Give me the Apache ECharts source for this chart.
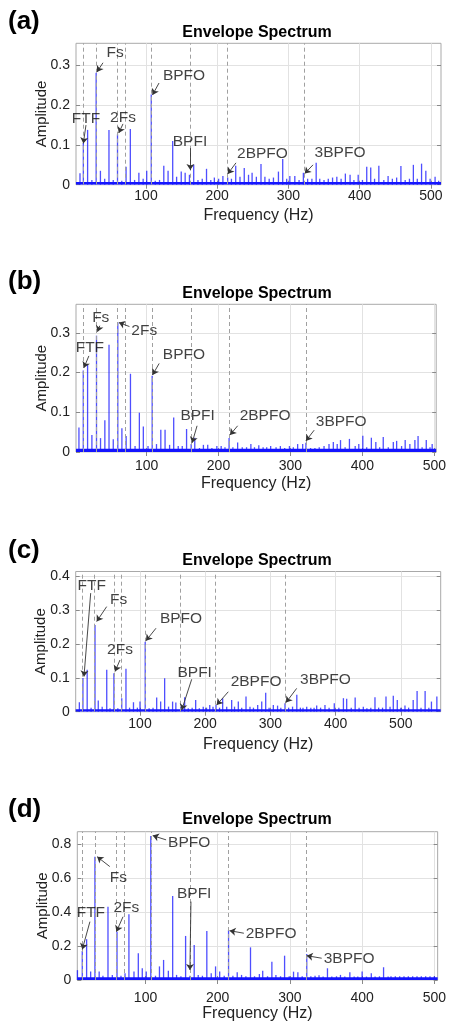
<!DOCTYPE html>
<html>
<head>
<meta charset="utf-8">
<script src="https://cdn.jsdelivr.net/npm/echarts@6/dist/echarts.min.js"></script>
<style>
html,body{margin:0;padding:0;background:#fff;}
#chart{width:449px;height:1023px;}
</style>
</head>
<body>
<div id="chart"></div>
<script>
// ---------------- DATA ----------------
const panelLetters = ['(a)', '(b)', '(c)', '(d)'];
const chartTitle = 'Envelope Spectrum';
const xName = 'Frequency (Hz)';
const yName = 'Amplitude';

// characteristic fault frequencies (dashed reference lines), Hz
const charFreqs = [11.93, 29.95, 59.9, 70.6, 107.36, 162.19, 214.72, 322.08];

// x tick values
const xTicksA = [100, 200, 300, 400, 500];
const xTicksB = [100, 200, 300, 400, 500];
const xTicksC = [100, 200, 300, 400, 500];
const xTicksD = [100, 200, 300, 400, 500];
// y tick values
const yTicksA = [0, 0.1, 0.2, 0.3];
const yTicksB = [0, 0.1, 0.2, 0.3];
const yTicksC = [0, 0.1, 0.2, 0.3, 0.4];
const yTicksD = [0, 0.2, 0.4, 0.6, 0.8];

// axis ranges [xMin, xMax, yMax]
const rangeA = [1.7, 514.3, 0.356];
const rangeB = [1.9, 502.6, 0.372];
const rangeC = [1.4, 561.2, 0.415];
const rangeD = [5.5, 504.6, 0.872];

// background noise floor level (amplitude)
const floorLevels = [0.007, 0.008, 0.007, 0.016];

// spectral peaks [frequency Hz, amplitude]
const peaksA = [[7.3,0.029],[12,0.105],[18,0.138],[24,0.012],[30,0.282],[36,0.035],[42,0.015],[48,0.138],[54,0.012],[60,0.127],[66,0.01],[72,0.045],[78,0.140],[84,0.012],[90,0.03],[96,0.015],[101,0.035],[107.4,0.227],[113,0.01],[119,0.012],[125,0.048],[131,0.035],[137.5,0.11],[143,0.02],[149.5,0.033],[155,0.03],[161,0.025],[167,0.05],[173,0.012],[179,0.015],[185,0.04],[191,0.012],[196,0.018],[202,0.015],[208,0.022],[214.7,0.018],[220,0.015],[226,0.048],[232,0.02],[238,0.042],[244,0.025],[249,0.03],[255,0.02],[261.5,0.052],[267,0.02],[273,0.015],[279,0.018],[286,0.033],[292,0.065],[297.6,0.015],[302,0.022],[309,0.022],[315,0.012],[321,0.03],[327,0.015],[333,0.015],[339,0.055],[344,0.015],[350,0.012],[356,0.015],[362,0.018],[368,0.02],[374,0.015],[380,0.028],[386.6,0.025],[392,0.012],[398,0.025],[404,0.012],[410,0.045],[415.6,0.043],[421,0.015],[427,0.048],[434,0.012],[440,0.022],[446,0.015],[452,0.018],[458,0.047],[464,0.012],[470,0.015],[475.5,0.05],[481,0.015],[487,0.053],[493,0.035],[499,0.015],[506,0.02],[511,0.01]];

const peaksB = [[6,0.062],[12,0.205],[18,0.22],[24,0.043],[30.4,0.293],[36,0.035],[42,0.08],[47.8,0.27],[53.7,0.032],[60,0.326],[65.7,0.06],[71.6,0.04],[77.6,0.197],[84,0.015],[90,0.099],[95.5,0.064],[102,0.015],[107.8,0.192],[113.8,0.02],[119.8,0.056],[125.7,0.056],[132,0.018],[137.7,0.087],[144,0.015],[149.6,0.015],[155.6,0.058],[162,0.02],[167,0.036],[173.5,0.01],[179,0.018],[185,0.018],[190.8,0.01],[197.7,0.015],[203.7,0.015],[209,0.012],[214.7,0.035],[220,0.012],[226.6,0.024],[233,0.012],[239,0.012],[245,0.02],[250,0.012],[256,0.017],[262,0.012],[267,0.012],[272.5,0.015],[280,0.012],[286,0.015],[292,0.01],[298.6,0.015],[304,0.012],[310,0.02],[317,0.02],[321.5,0.023],[328,0.01],[334,0.01],[340,0.012],[346.7,0.015],[353.6,0.02],[359.6,0.025],[365,0.02],[369.6,0.03],[376,0.012],[382,0.033],[390,0.015],[395,0.02],[400.6,0.041],[406,0.012],[412.5,0.036],[418.7,0.025],[424,0.012],[429,0.038],[436,0.012],[443,0.025],[447.6,0.028],[454.5,0.015],[459.5,0.03],[466,0.02],[473,0.03],[477.4,0.04],[483,0.012],[488.8,0.03],[494,0.012],[497,0.02]];

const peaksC = [[7,0.028],[12.5,0.1],[19,0.124],[25,0.012],[31,0.257],[36,0.033],[42,0.015],[49,0.124],[54,0.01],[60,0.114],[66,0.01],[72,0.04],[78.5,0.127],[84,0.012],[90,0.028],[96,0.012],[100,0.03],[108,0.207],[114,0.01],[120,0.012],[125.6,0.042],[131.7,0.03],[137.8,0.099],[143.8,0.015],[150,0.03],[155,0.027],[162.4,0.015],[168.5,0.043],[174,0.01],[180,0.012],[185.4,0.035],[191,0.01],[197,0.015],[202,0.012],[207,0.02],[212,0.015],[216.6,0.02],[222,0.012],[226.8,0.04],[233,0.015],[240.6,0.035],[245,0.015],[250.8,0.03],[256,0.012],[262.6,0.045],[268.7,0.015],[274,0.012],[280.5,0.02],[286.7,0.03],[292.8,0.056],[298,0.012],[304.5,0.02],[311,0.018],[316,0.012],[322.4,0.025],[328,0.012],[334,0.015],[340.5,0.05],[346,0.012],[350,0.012],[355.7,0.015],[362,0.012],[367,0.012],[371,0.018],[377,0.012],[383.7,0.02],[390,0.012],[398,0.025],[405,0.012],[412,0.04],[417,0.038],[424,0.012],[430,0.042],[436,0.012],[442.5,0.015],[448,0.01],[454,0.012],[460.4,0.043],[466,0.012],[472,0.012],[477.3,0.045],[483.5,0.015],[488.5,0.047],[494.6,0.035],[500,0.012],[506.4,0.018],[512,0.012],[519,0.035],[525,0.061],[531,0.012],[537.3,0.061],[543,0.012],[547,0.03],[555.3,0.045]];

const peaksD = [[5.7,0.058],[12.4,0.171],[18.4,0.24],[24,0.05],[29.9,0.725],[35.8,0.05],[41,0.025],[48,0.431],[54,0.03],[60.5,0.284],[66,0.025],[71.6,0.04],[77,0.386],[84,0.05],[90,0.157],[95.5,0.069],[101,0.05],[107.3,0.847],[113.8,0.025],[119.3,0.08],[125,0.118],[131.6,0.055],[137.6,0.494],[143,0.03],[149,0.022],[155.5,0.259],[161.5,0.025],[167.4,0.206],[173,0.03],[178.8,0.025],[184.9,0.288],[191,0.04],[197,0.08],[202.7,0.05],[209,0.025],[215,0.294],[221,0.025],[227,0.045],[233,0.03],[239,0.022],[245.4,0.192],[251,0.022],[257.7,0.035],[262.3,0.055],[269,0.022],[275,0.108],[280.6,0.03],[287,0.022],[292.6,0.143],[299,0.022],[305,0.049],[311,0.045],[317,0.022],[323.3,0.153],[329,0.022],[334.8,0.025],[340.3,0.028],[346,0.02],[352,0.069],[358,0.02],[364.5,0.022],[370,0.03],[376,0.02],[383,0.045],[389,0.02],[394,0.02],[400,0.05],[406,0.02],[412.7,0.04],[418,0.02],[424,0.022],[429.7,0.075],[436,0.02],[440,0.022],[446,0.022],[452,0.022],[458,0.022],[464,0.022],[470,0.022],[476,0.022],[482,0.022],[488,0.022],[494,0.022],[500,0.022]];

// annotations: [label, textX, textY, arrowFromX, arrowFromY, arrowToX, arrowToY] (data units)
const annotA = [['FTF',15.7,0.166,15.7,0.150,12,0.104],['Fs',56.5,0.332,39.6,0.307,31.2,0.284],['2Fs',67.7,0.168,67.7,0.153,61.7,0.130],['BPFO',153.4,0.274,118.3,0.256,109.1,0.226],['BPFI',161.8,0.108,162.8,0.092,162.2,0.037],['2BPFO',263.6,0.077,226.4,0.055,214.7,0.027],['3BPFO',372.5,0.081,334.6,0.050,322.9,0.028]];
const annotB = [['FTF',21.2,0.263,19.8,0.242,12.9,0.212],['Fs',36.3,0.337,35,0.318,31.8,0.303],['2Fs',96.8,0.306,76.2,0.316,61.5,0.326],['BPFO',151.9,0.244,117.5,0.223,108.3,0.194],['BPFI',171,0.091,170.2,0.066,163.3,0.023],['2BPFO',264.7,0.091,226.6,0.066,216,0.043],['3BPFO',370.6,0.077,333,0.055,321.5,0.028]];
const annotC = [['FTF',25.9,0.373,24.4,0.351,14.1,0.104],['Fs',67.3,0.332,48.9,0.311,33.6,0.267],['2Fs',69.3,0.184,69.3,0.153,61.7,0.119],['BPFO',162.9,0.275,124.5,0.247,109.2,0.21],['BPFI',183.9,0.116,179.3,0.096,164,0.005],['2BPFO',278,0.089,235.4,0.059,217.6,0.02],['3BPFO',384.5,0.094,340.3,0.069,323.9,0.027]];
const annotD = [['FTF',24.3,0.397,23,0.343,12.4,0.18],['Fs',62.4,0.603,50.5,0.667,33,0.725],['2Fs',73.5,0.426,68.8,0.372,59.7,0.284],['BPFO',160.5,0.809,128.5,0.824,110,0.849],['BPFI',167.4,0.506,162.9,0.461,161.5,0.059],['2BPFO',274,0.27,236.2,0.275,216.5,0.29],['3BPFO',382,0.125,344,0.128,323.3,0.143]];

// ---------------- LAYOUT (pixels) ----------------
const layouts = [
  {left:76,   top:43.3,  width:365,   height:141.4, letterY:21.5,  titleY:32.5,  xLabelMargin:4,  xNameGap:23},
  {left:76,   top:304.3, width:364,   height:147.7, letterY:281.5, titleY:293.3, xLabelMargin:7,  xNameGap:24},
  {left:75.7, top:571.5, width:365,   height:140.2, letterY:550.8, titleY:560.5, xLabelMargin:5,  xNameGap:25},
  {left:77.3, top:831.7, width:362.7, height:148.3, letterY:810,   titleY:820,   xLabelMargin:11, xNameGap:26}
];

const panels = [
  {peaks:peaksA, annot:annotA, xTicks:xTicksA, yTicks:yTicksA, range:rangeA},
  {peaks:peaksB, annot:annotB, xTicks:xTicksB, yTicks:yTicksB, range:rangeB},
  {peaks:peaksC, annot:annotC, xTicks:xTicksC, yTicks:yTicksC, range:rangeC},
  {peaks:peaksD, annot:annotD, xTicks:xTicksD, yTicks:yTicksD, range:rangeD}
];

const FONT = '"Liberation Sans", Arial, Helvetica, sans-serif';
const TXT = '#222222';
const BLUE = '#1414ff';

const grids = [], xAxes = [], yAxes = [], series = [], graphics = [];

panels.forEach((p, i) => {
  const L = layouts[i];
  const [xMin, xMax, yMax] = p.range;
  grids.push({left:L.left, top:L.top, width:L.width, height:L.height, show:true,
    borderColor:'#a9a9a9', borderWidth:1, backgroundColor:'#ffffff'});

  xAxes.push({type:'value', gridIndex:i, position:'bottom', min:xMin, max:xMax,
    axisLine:{show:false},
    axisTick:{show:true, inside:true, length:4, customValues:p.xTicks, lineStyle:{color:'#8a8a8a'}},
    axisLabel:{show:true, customValues:p.xTicks, margin:L.xLabelMargin, fontSize:14, color:TXT, fontFamily:FONT},
    splitLine:{show:true, lineStyle:{color:'#e2e2e2', width:1}},
    name:xName, nameLocation:'middle', nameGap:L.xNameGap, nameMoveOverlap:false,
    nameTextStyle:{fontSize:16, color:TXT, fontFamily:FONT}});
  xAxes.push({type:'value', gridIndex:i, position:'top', min:xMin, max:xMax,
    axisLine:{show:false},
    axisTick:{show:true, inside:true, length:4, customValues:p.xTicks, lineStyle:{color:'#8a8a8a'}},
    axisLabel:{show:false}, splitLine:{show:false}});

  yAxes.push({type:'value', gridIndex:i, position:'left', min:0, max:yMax,
    axisLine:{show:false},
    axisTick:{show:true, inside:true, length:4, customValues:p.yTicks, lineStyle:{color:'#8a8a8a'}},
    axisLabel:{show:true, customValues:p.yTicks, margin:6, fontSize:14, color:TXT, fontFamily:FONT},
    splitLine:{show:true, lineStyle:{color:'#e2e2e2', width:1}},
    name:yName, nameLocation:'middle', nameGap:27, nameRotate:90, nameMoveOverlap:false,
    nameTextStyle:{fontSize:15, color:TXT, fontFamily:FONT}});
  yAxes.push({type:'value', gridIndex:i, position:'right', min:0, max:yMax,
    axisLine:{show:false},
    axisTick:{show:true, inside:true, length:4, customValues:p.yTicks, lineStyle:{color:'#8a8a8a'}},
    axisLabel:{show:false}, splitLine:{show:false}});

  const xi = 2 * i, yi = 2 * i;

  // spectrum peaks
  series.push({type:'bar', xAxisIndex:xi, yAxisIndex:yi, data:p.peaks, barWidth:1.3,
    itemStyle:{color:'rgba(10,10,255,0.72)'}, silent:true, z:3,
    markLine:{silent:true, symbol:'none', label:{show:false}, animation:false,
      lineStyle:{type:[4,3], color:'#a0a0a0', width:1},
      data:charFreqs.map(f => ({xAxis:f}))}});

  // noise floor band
  series.push({type:'line', xAxisIndex:xi, yAxisIndex:yi,
    data:[[xMin, floorLevels[i]], [xMax, floorLevels[i]]],
    symbol:'none', lineStyle:{width:0}, areaStyle:{color:BLUE, opacity:1}, silent:true, z:4});

  // annotation labels + arrows
  series.push({type:'scatter', xAxisIndex:xi, yAxisIndex:yi,
    data:p.annot.map(a => [a[1], a[2], a[0]]),
    symbolSize:1, itemStyle:{color:'rgba(0,0,0,0)'}, silent:true, z:6,
    label:{show:true, position:'inside', formatter:(d) => d.value[2],
      fontSize:15.5, color:'#111111', fontFamily:FONT},
    markLine:{silent:true, animation:false, symbol:['none','arrow'], symbolSize:6,
      label:{show:false}, lineStyle:{type:'solid', color:'#333333', width:0.9},
      data:p.annot.map(a => [{coord:[a[3], a[4]]}, {coord:[a[5], a[6]]}])}});

  graphics.push({type:'text', x:8, y:L.letterY,
    style:{text:panelLetters[i], font:'bold 26px ' + FONT, fill:'#000', verticalAlign:'middle', align:'left'}});
  graphics.push({type:'text', x:257, y:L.titleY,
    style:{text:chartTitle, font:'bold 16px ' + FONT, fill:'#000', verticalAlign:'middle', align:'center'}});
});

const option = {
  animation:false,
  backgroundColor:'#ffffff',
  grid:grids, xAxis:xAxes, yAxis:yAxes, series:series,
  graphic:{elements:graphics}
};

const chart = echarts.init(document.getElementById('chart'), null, {renderer:'canvas'});
chart.setOption(option);
</script>
</body>
</html>
